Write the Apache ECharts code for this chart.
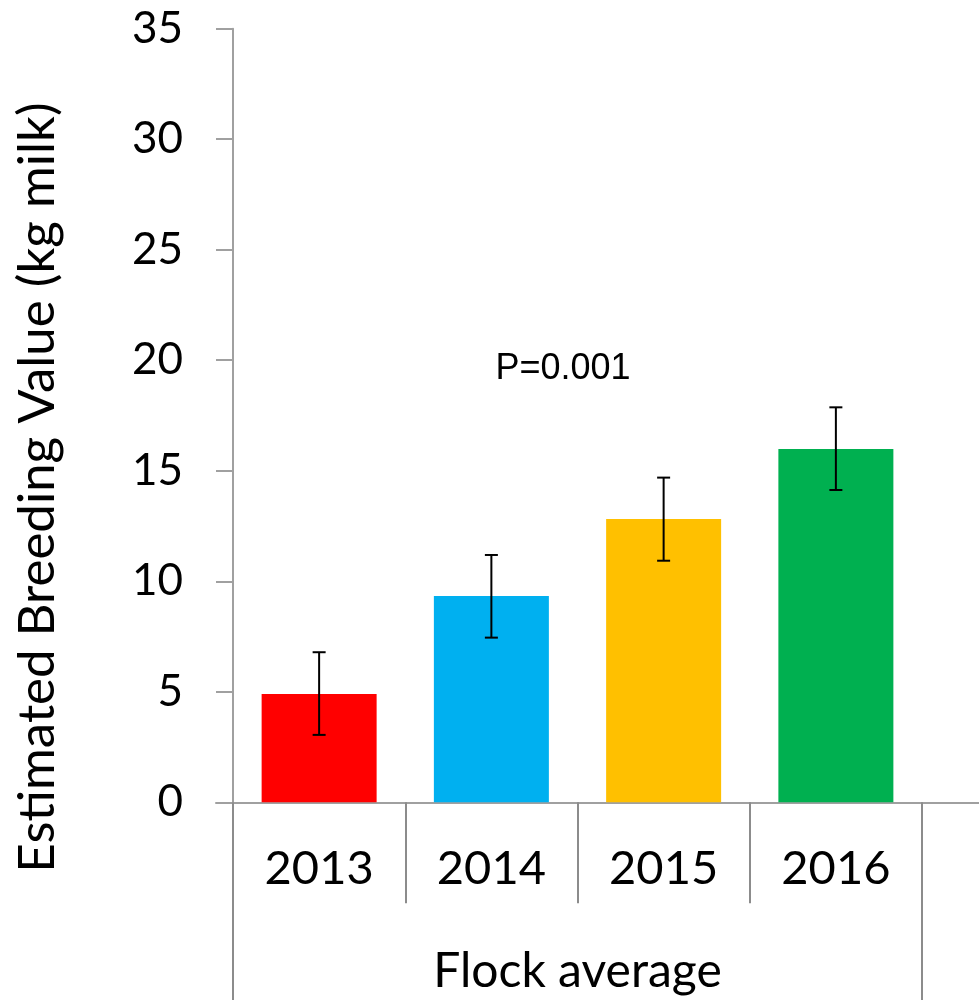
<!DOCTYPE html>
<html>
<head>
<meta charset="utf-8">
<script src="https://cdn.jsdelivr.net/npm/echarts@6/dist/echarts.min.js"></script>
<style>
html,body{margin:0;padding:0;background:#fff;}
#chart{width:979px;height:1000px;}
</style>
</head>
<body>
<div id="chart"></div>
<script>
const categories = ['2013', '2014', '2015', '2016'];
const groupLabels = ['Flock average'];
const means = [4.9, 9.33, 12.82, 15.99];
const errLow = [3.05, 7.45, 10.93, 14.13];
const errHigh = [6.79, 11.19, 14.69, 17.87];
const barColors = ['#FF0000', '#00B0F0', '#FFC000', '#00B050'];
const yMin = 0, yMax = 35, yStep = 5;
const yTitle = 'Estimated Breeding Value (kg milk)';
const pText = 'P=0.001';

const axisGray = '#A0A0A0';
const tickGray = '#8C8C8C';
const font = 'Lato';

const chart = echarts.init(document.getElementById('chart'), null, {renderer: 'canvas'});

const option = {
  animation: false,
  backgroundColor: '#fff',
  grid: [
    {left: 233, right: 57, top: 28.7, bottom: 197.7, outerBoundsMode: 'none', containLabel: false},
    {left: 216, right: 0, top: 28.7, bottom: 197.7, outerBoundsMode: 'none', containLabel: false}
  ],
  xAxis: [
    {
      type: 'category', gridIndex: 0, data: categories,
      axisLine: {show: true, lineStyle: {color: axisGray, width: 2}},
      axisTick: {show: true, interval: 0, length: 101, lineStyle: {color: tickGray, width: 2}},
      axisLabel: {margin: 43, fontSize: 47, fontFamily: font, color: '#000', interval: 0}
    },
    {
      type: 'category', gridIndex: 0, data: groupLabels, position: 'bottom', offset: 101,
      axisLine: {show: false},
      axisTick: {show: true, interval: 0, length: 99, lineStyle: {color: tickGray, width: 2}},
      axisLabel: {margin: 44, fontSize: 48, fontFamily: font, color: '#000', interval: 0}
    },
    {
      type: 'value', gridIndex: 1, min: 0, max: 1,
      axisLine: {show: true, onZero: false, lineStyle: {color: axisGray, width: 2}},
      axisTick: {show: false}, axisLabel: {show: false}, splitLine: {show: false}
    }
  ],
  yAxis: [
    {
      type: 'value', gridIndex: 0, min: yMin, max: yMax, interval: yStep,
      name: yTitle, nameLocation: 'middle', nameGap: 170, nameRotate: 90,
      nameTextStyle: {fontSize: 51, fontFamily: font, color: '#000', padding: [0, 144, 0, 0]},
      axisLine: {show: true, lineStyle: {color: axisGray, width: 2}},
      axisTick: {show: true, length: 17, lineStyle: {color: axisGray, width: 2}},
      axisLabel: {margin: 50, fontSize: 44, fontFamily: font, color: '#000'},
      splitLine: {show: false}
    },
    {
      type: 'value', gridIndex: 1, min: 0, max: 1, show: false
    }
  ],
  series: [
    {
      type: 'bar', xAxisIndex: 0, yAxisIndex: 0, barWidth: 115,
      data: means.map((v, i) => ({value: v, itemStyle: {color: barColors[i]}}))
    },
    {
      type: 'custom', xAxisIndex: 0, yAxisIndex: 0, z: 10,
      data: categories.map((c, i) => [i, errLow[i], errHigh[i]]),
      renderItem: function (params, api) {
        const lo = api.coord([api.value(0), api.value(1)]);
        const hi = api.coord([api.value(0), api.value(2)]);
        const cap = 6.5;
        const style = {stroke: '#000', lineWidth: 2};
        return {
          type: 'group',
          children: [
            {type: 'line', shape: {x1: hi[0], y1: hi[1], x2: lo[0], y2: lo[1]}, style: style},
            {type: 'line', shape: {x1: hi[0] - cap, y1: hi[1], x2: hi[0] + cap, y2: hi[1]}, style: style},
            {type: 'line', shape: {x1: lo[0] - cap, y1: lo[1], x2: lo[0] + cap, y2: lo[1]}, style: style}
          ]
        };
      }
    }
  ],
  graphic: [
    {
      type: 'text', x: 563, y: 369,
      style: {text: pText, font: '36px "Liberation Sans", Arial, sans-serif', fill: '#000',
              textAlign: 'center', textVerticalAlign: 'middle'}
    }
  ]
};
chart.setOption(option);
</script>
</body>
</html>
